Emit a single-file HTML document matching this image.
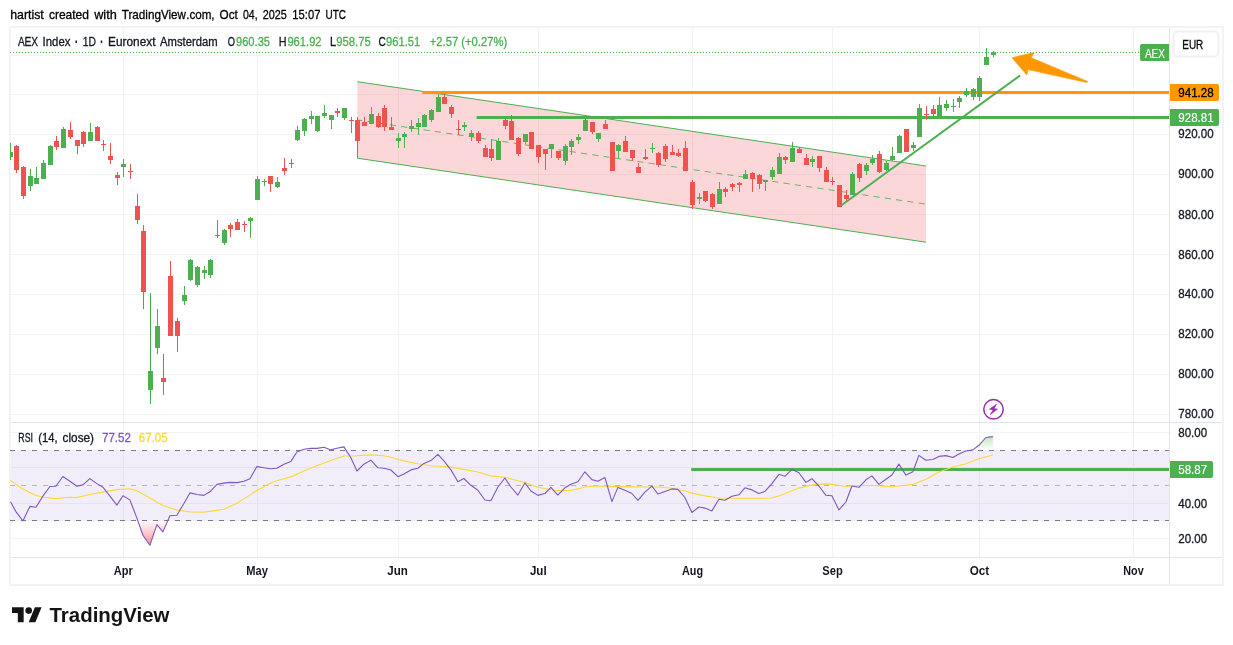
<!DOCTYPE html>
<html><head><meta charset="utf-8"><title>AEX Index chart</title>
<style>html,body{margin:0;padding:0;background:#fff}svg{display:block}</style></head>
<body>
<svg width="1233" height="645" viewBox="0 0 1233 645" font-family='"Liberation Sans", Arial, sans-serif'>
<defs>
<linearGradient id="gos" gradientUnits="userSpaceOnUse" x1="0" y1="520" x2="0" y2="546"><stop offset="0" stop-color="#f23645" stop-opacity="0"/><stop offset="1" stop-color="#f23645" stop-opacity="0.55"/></linearGradient>
<linearGradient id="gob" gradientUnits="userSpaceOnUse" x1="0" y1="434" x2="0" y2="450"><stop offset="0" stop-color="#4caf50" stop-opacity="0.4"/><stop offset="1" stop-color="#4caf50" stop-opacity="0"/></linearGradient>
<clipPath id="cpMain"><rect x="10" y="28" width="1159" height="394"/></clipPath>
<clipPath id="cpRsi"><rect x="10" y="423" width="1159" height="134"/></clipPath>
</defs>
<rect width="1233" height="645" fill="#fff"/>
<text x="10.2" y="18.8" font-size="13" fill="#000" stroke="#000" stroke-width="0.3" textLength="33.6" lengthAdjust="spacingAndGlyphs">hartist</text>
<text x="48.9" y="18.8" font-size="13" fill="#000" stroke="#000" stroke-width="0.3" textLength="40.1" lengthAdjust="spacingAndGlyphs">created</text>
<text x="94.2" y="18.8" font-size="13" fill="#000" stroke="#000" stroke-width="0.3" textLength="22.6" lengthAdjust="spacingAndGlyphs">with</text>
<text x="121.7" y="18.8" font-size="13" fill="#000" stroke="#000" stroke-width="0.3" textLength="39.3" lengthAdjust="spacingAndGlyphs">Trading</text>
<text x="161.0" y="18.8" font-size="13" fill="#000" stroke="#000" stroke-width="0.3" textLength="24.9" lengthAdjust="spacingAndGlyphs">View</text>
<text x="186.2" y="18.8" font-size="13" fill="#000" stroke="#000" stroke-width="0.3" textLength="28.4" lengthAdjust="spacingAndGlyphs">.com,</text>
<text x="219.6" y="18.8" font-size="13" fill="#000" stroke="#000" stroke-width="0.3" textLength="18.3" lengthAdjust="spacingAndGlyphs">Oct</text>
<text x="243" y="18.8" font-size="13" fill="#000" stroke="#000" stroke-width="0.3" textLength="14.6" lengthAdjust="spacingAndGlyphs">04,</text>
<text x="262.7" y="18.8" font-size="13" fill="#000" stroke="#000" stroke-width="0.3" textLength="24.1" lengthAdjust="spacingAndGlyphs">2025</text>
<text x="292.3" y="18.8" font-size="13" fill="#000" stroke="#000" stroke-width="0.3" textLength="28.1" lengthAdjust="spacingAndGlyphs">15:07</text>
<text x="325.5" y="18.8" font-size="13" fill="#000" stroke="#000" stroke-width="0.3" textLength="20.4" lengthAdjust="spacingAndGlyphs">UTC</text>
<rect x="10" y="27" width="1213" height="558" fill="#fff" stroke="#f3f3f3" stroke-width="2"/>
<g shape-rendering="crispEdges" stroke="#f2f3f3" stroke-width="1">
<line x1="123.5" y1="28" x2="123.5" y2="557"/>
<line x1="257.5" y1="28" x2="257.5" y2="557"/>
<line x1="398.5" y1="28" x2="398.5" y2="557"/>
<line x1="538.5" y1="28" x2="538.5" y2="557"/>
<line x1="692.5" y1="28" x2="692.5" y2="557"/>
<line x1="832.5" y1="28" x2="832.5" y2="557"/>
<line x1="979.5" y1="28" x2="979.5" y2="557"/>
<line x1="1133.5" y1="28" x2="1133.5" y2="557"/>
<line x1="11" y1="55.5" x2="1169" y2="55.5"/>
<line x1="11" y1="94.5" x2="1169" y2="94.5"/>
<line x1="11" y1="134.5" x2="1169" y2="134.5"/>
<line x1="11" y1="174.5" x2="1169" y2="174.5"/>
<line x1="11" y1="214.5" x2="1169" y2="214.5"/>
<line x1="11" y1="254.5" x2="1169" y2="254.5"/>
<line x1="11" y1="294.5" x2="1169" y2="294.5"/>
<line x1="11" y1="334.5" x2="1169" y2="334.5"/>
<line x1="11" y1="374.5" x2="1169" y2="374.5"/>
<line x1="11" y1="414.5" x2="1169" y2="414.5"/>
<line x1="11" y1="432.5" x2="1169" y2="432.5"/>
<line x1="11" y1="467.5" x2="1169" y2="467.5"/>
<line x1="11" y1="503.5" x2="1169" y2="503.5"/>
<line x1="11" y1="538.5" x2="1169" y2="538.5"/>
</g>
<g clip-path="url(#cpMain)">
<polygon points="357.3,81.7 926.0,166.0 926.0,242.2 357.3,158.2" fill="#f23645" fill-opacity="0.2"/>
<line x1="357.3" y1="81.7" x2="926.0" y2="166.0" stroke="#4caf50" stroke-width="1"/>
<line x1="357.3" y1="158.2" x2="926.0" y2="242.2" stroke="#4caf50" stroke-width="1"/>
<line x1="357.3" y1="119.94999999999999" x2="926.0" y2="204.1" stroke="#4caf50" stroke-width="1" stroke-dasharray="6.2 5.17" stroke-dashoffset="1.2" stroke-opacity="0.85"/>
<line x1="422.3" y1="92.5" x2="1169" y2="92.5" stroke="#ff9800" stroke-width="3"/>
<line x1="476.6" y1="117.5" x2="1169" y2="117.5" stroke="#4caf50" stroke-width="3"/>
<g shape-rendering="crispEdges">
<rect x="10" y="143" width="1" height="17" fill="#4caf50"/>
<rect x="8" y="152" width="5" height="5" fill="#4caf50"/>
<rect x="16" y="145" width="1" height="28" fill="#ef5350"/>
<rect x="14" y="146" width="5" height="24" fill="#ef5350"/>
<rect x="23" y="166" width="1" height="33" fill="#ef5350"/>
<rect x="21" y="167" width="5" height="29" fill="#ef5350"/>
<rect x="30" y="169" width="1" height="22" fill="#4caf50"/>
<rect x="28" y="176" width="5" height="10" fill="#4caf50"/>
<rect x="36" y="167" width="1" height="17" fill="#4caf50"/>
<rect x="34" y="178" width="5" height="6" fill="#4caf50"/>
<rect x="43" y="160" width="1" height="19" fill="#4caf50"/>
<rect x="41" y="163" width="5" height="16" fill="#4caf50"/>
<rect x="50" y="145" width="1" height="20" fill="#4caf50"/>
<rect x="48" y="146" width="5" height="19" fill="#4caf50"/>
<rect x="56" y="136" width="1" height="14" fill="#ef5350"/>
<rect x="54" y="141" width="5" height="6" fill="#ef5350"/>
<rect x="63" y="127" width="1" height="21" fill="#4caf50"/>
<rect x="61" y="129" width="5" height="19" fill="#4caf50"/>
<rect x="70" y="122" width="1" height="17" fill="#ef5350"/>
<rect x="68" y="130" width="5" height="7" fill="#ef5350"/>
<rect x="77" y="140" width="1" height="14" fill="#ef5350"/>
<rect x="75" y="140" width="5" height="6" fill="#ef5350"/>
<rect x="83" y="131" width="1" height="16" fill="#ef5350"/>
<rect x="81" y="132" width="5" height="12" fill="#ef5350"/>
<rect x="90" y="123" width="1" height="18" fill="#4caf50"/>
<rect x="88" y="132" width="5" height="9" fill="#4caf50"/>
<rect x="97" y="126" width="1" height="15" fill="#ef5350"/>
<rect x="95" y="127" width="5" height="14" fill="#ef5350"/>
<rect x="103" y="140" width="1" height="11" fill="#ef5350"/>
<rect x="101" y="144" width="5" height="1" fill="#ef5350"/>
<rect x="110" y="143" width="1" height="21" fill="#ef5350"/>
<rect x="108" y="156" width="5" height="4" fill="#ef5350"/>
<rect x="117" y="172" width="1" height="13" fill="#ef5350"/>
<rect x="115" y="175" width="5" height="3" fill="#ef5350"/>
<rect x="123" y="159" width="1" height="18" fill="#4caf50"/>
<rect x="121" y="164" width="5" height="3" fill="#4caf50"/>
<rect x="130" y="164" width="1" height="15" fill="#ef5350"/>
<rect x="128" y="171" width="5" height="1" fill="#ef5350"/>
<rect x="137" y="194" width="1" height="30" fill="#ef5350"/>
<rect x="135" y="206" width="5" height="14" fill="#ef5350"/>
<rect x="143" y="225" width="1" height="84" fill="#ef5350"/>
<rect x="141" y="231" width="5" height="61" fill="#ef5350"/>
<rect x="150" y="293" width="1" height="111" fill="#4caf50"/>
<rect x="148" y="371" width="5" height="19" fill="#4caf50"/>
<rect x="157" y="309" width="1" height="45" fill="#4caf50"/>
<rect x="155" y="326" width="5" height="22" fill="#4caf50"/>
<rect x="163" y="354" width="1" height="41" fill="#ef5350"/>
<rect x="161" y="378" width="5" height="4" fill="#ef5350"/>
<rect x="170" y="261" width="1" height="75" fill="#ef5350"/>
<rect x="168" y="276" width="5" height="60" fill="#ef5350"/>
<rect x="177" y="318" width="1" height="34" fill="#ef5350"/>
<rect x="175" y="321" width="5" height="15" fill="#ef5350"/>
<rect x="184" y="286" width="1" height="19" fill="#4caf50"/>
<rect x="182" y="295" width="5" height="6" fill="#4caf50"/>
<rect x="190" y="259" width="1" height="22" fill="#4caf50"/>
<rect x="188" y="260" width="5" height="20" fill="#4caf50"/>
<rect x="197" y="266" width="1" height="21" fill="#4caf50"/>
<rect x="195" y="267" width="5" height="18" fill="#4caf50"/>
<rect x="204" y="266" width="1" height="13" fill="#4caf50"/>
<rect x="202" y="270" width="5" height="3" fill="#4caf50"/>
<rect x="210" y="259" width="1" height="19" fill="#4caf50"/>
<rect x="208" y="260" width="5" height="15" fill="#4caf50"/>
<rect x="217" y="220" width="1" height="18" fill="#ef5350"/>
<rect x="215" y="235" width="5" height="1" fill="#ef5350"/>
<rect x="224" y="229" width="1" height="16" fill="#4caf50"/>
<rect x="222" y="230" width="5" height="13" fill="#4caf50"/>
<rect x="230" y="223" width="1" height="14" fill="#ef5350"/>
<rect x="228" y="225" width="5" height="4" fill="#ef5350"/>
<rect x="237" y="219" width="1" height="11" fill="#ef5350"/>
<rect x="235" y="222" width="5" height="8" fill="#ef5350"/>
<rect x="244" y="221" width="1" height="11" fill="#ef5350"/>
<rect x="242" y="224" width="5" height="1" fill="#ef5350"/>
<rect x="250" y="217" width="1" height="21" fill="#4caf50"/>
<rect x="248" y="218" width="5" height="3" fill="#4caf50"/>
<rect x="257" y="176" width="1" height="24" fill="#4caf50"/>
<rect x="255" y="179" width="5" height="21" fill="#4caf50"/>
<rect x="264" y="179" width="1" height="7" fill="#4caf50"/>
<rect x="262" y="181" width="5" height="1" fill="#4caf50"/>
<rect x="270" y="176" width="1" height="16" fill="#ef5350"/>
<rect x="268" y="176" width="5" height="8" fill="#ef5350"/>
<rect x="277" y="177" width="1" height="11" fill="#4caf50"/>
<rect x="275" y="182" width="5" height="5" fill="#4caf50"/>
<rect x="284" y="158" width="1" height="17" fill="#ef5350"/>
<rect x="282" y="168" width="5" height="3" fill="#ef5350"/>
<rect x="291" y="159" width="1" height="9" fill="#ef5350"/>
<rect x="289" y="163" width="5" height="1" fill="#ef5350"/>
<rect x="297" y="126" width="1" height="15" fill="#4caf50"/>
<rect x="295" y="130" width="5" height="10" fill="#4caf50"/>
<rect x="304" y="118" width="1" height="18" fill="#4caf50"/>
<rect x="302" y="119" width="5" height="12" fill="#4caf50"/>
<rect x="311" y="111" width="1" height="13" fill="#4caf50"/>
<rect x="309" y="116" width="5" height="3" fill="#4caf50"/>
<rect x="317" y="116" width="1" height="16" fill="#4caf50"/>
<rect x="315" y="116" width="5" height="15" fill="#4caf50"/>
<rect x="324" y="105" width="1" height="13" fill="#4caf50"/>
<rect x="322" y="113" width="5" height="3" fill="#4caf50"/>
<rect x="331" y="115" width="1" height="14" fill="#4caf50"/>
<rect x="329" y="115" width="5" height="5" fill="#4caf50"/>
<rect x="337" y="108" width="1" height="9" fill="#ef5350"/>
<rect x="335" y="111" width="5" height="2" fill="#ef5350"/>
<rect x="344" y="108" width="1" height="12" fill="#4caf50"/>
<rect x="342" y="108" width="5" height="10" fill="#4caf50"/>
<rect x="351" y="117" width="1" height="16" fill="#ef5350"/>
<rect x="349" y="120" width="5" height="1" fill="#ef5350"/>
<rect x="357" y="117" width="1" height="41" fill="#ef5350"/>
<rect x="355" y="120" width="5" height="21" fill="#ef5350"/>
<rect x="364" y="117" width="1" height="9" fill="#ef5350"/>
<rect x="362" y="122" width="5" height="4" fill="#ef5350"/>
<rect x="371" y="107" width="1" height="17" fill="#4caf50"/>
<rect x="369" y="114" width="5" height="10" fill="#4caf50"/>
<rect x="378" y="113" width="1" height="15" fill="#ef5350"/>
<rect x="376" y="116" width="5" height="11" fill="#ef5350"/>
<rect x="384" y="105" width="1" height="26" fill="#ef5350"/>
<rect x="382" y="108" width="5" height="19" fill="#ef5350"/>
<rect x="391" y="117" width="1" height="13" fill="#ef5350"/>
<rect x="389" y="127" width="5" height="3" fill="#ef5350"/>
<rect x="398" y="133" width="1" height="15" fill="#4caf50"/>
<rect x="396" y="138" width="5" height="3" fill="#4caf50"/>
<rect x="404" y="132" width="1" height="16" fill="#4caf50"/>
<rect x="402" y="134" width="5" height="3" fill="#4caf50"/>
<rect x="411" y="120" width="1" height="12" fill="#4caf50"/>
<rect x="409" y="126" width="5" height="3" fill="#4caf50"/>
<rect x="418" y="118" width="1" height="17" fill="#4caf50"/>
<rect x="416" y="123" width="5" height="4" fill="#4caf50"/>
<rect x="424" y="114" width="1" height="13" fill="#4caf50"/>
<rect x="422" y="115" width="5" height="12" fill="#4caf50"/>
<rect x="431" y="109" width="1" height="13" fill="#4caf50"/>
<rect x="429" y="110" width="5" height="10" fill="#4caf50"/>
<rect x="438" y="94" width="1" height="18" fill="#4caf50"/>
<rect x="436" y="97" width="5" height="15" fill="#4caf50"/>
<rect x="444" y="94" width="1" height="10" fill="#ef5350"/>
<rect x="442" y="97" width="5" height="7" fill="#ef5350"/>
<rect x="451" y="105" width="1" height="13" fill="#ef5350"/>
<rect x="449" y="107" width="5" height="7" fill="#ef5350"/>
<rect x="458" y="120" width="1" height="15" fill="#ef5350"/>
<rect x="456" y="129" width="5" height="1" fill="#ef5350"/>
<rect x="464" y="122" width="1" height="9" fill="#4caf50"/>
<rect x="462" y="125" width="5" height="2" fill="#4caf50"/>
<rect x="471" y="130" width="1" height="11" fill="#4caf50"/>
<rect x="469" y="133" width="5" height="4" fill="#4caf50"/>
<rect x="478" y="131" width="1" height="12" fill="#ef5350"/>
<rect x="476" y="133" width="5" height="8" fill="#ef5350"/>
<rect x="485" y="145" width="1" height="12" fill="#ef5350"/>
<rect x="483" y="148" width="5" height="9" fill="#ef5350"/>
<rect x="491" y="139" width="1" height="22" fill="#ef5350"/>
<rect x="489" y="149" width="5" height="9" fill="#ef5350"/>
<rect x="498" y="138" width="1" height="22" fill="#4caf50"/>
<rect x="496" y="141" width="5" height="19" fill="#4caf50"/>
<rect x="505" y="119" width="1" height="10" fill="#ef5350"/>
<rect x="503" y="120" width="5" height="6" fill="#ef5350"/>
<rect x="511" y="115" width="1" height="25" fill="#ef5350"/>
<rect x="509" y="121" width="5" height="19" fill="#ef5350"/>
<rect x="518" y="137" width="1" height="19" fill="#ef5350"/>
<rect x="516" y="138" width="5" height="16" fill="#ef5350"/>
<rect x="525" y="134" width="1" height="10" fill="#4caf50"/>
<rect x="523" y="134" width="5" height="8" fill="#4caf50"/>
<rect x="531" y="132" width="1" height="17" fill="#ef5350"/>
<rect x="529" y="132" width="5" height="17" fill="#ef5350"/>
<rect x="538" y="145" width="1" height="18" fill="#ef5350"/>
<rect x="536" y="145" width="5" height="12" fill="#ef5350"/>
<rect x="545" y="149" width="1" height="21" fill="#ef5350"/>
<rect x="543" y="149" width="5" height="5" fill="#ef5350"/>
<rect x="551" y="144" width="1" height="14" fill="#4caf50"/>
<rect x="549" y="144" width="5" height="5" fill="#4caf50"/>
<rect x="558" y="151" width="1" height="9" fill="#ef5350"/>
<rect x="556" y="151" width="5" height="7" fill="#ef5350"/>
<rect x="565" y="144" width="1" height="21" fill="#4caf50"/>
<rect x="563" y="146" width="5" height="15" fill="#4caf50"/>
<rect x="571" y="139" width="1" height="16" fill="#4caf50"/>
<rect x="569" y="141" width="5" height="6" fill="#4caf50"/>
<rect x="578" y="134" width="1" height="10" fill="#4caf50"/>
<rect x="576" y="137" width="5" height="3" fill="#4caf50"/>
<rect x="585" y="119" width="1" height="12" fill="#4caf50"/>
<rect x="583" y="120" width="5" height="11" fill="#4caf50"/>
<rect x="592" y="122" width="1" height="12" fill="#ef5350"/>
<rect x="590" y="122" width="5" height="10" fill="#ef5350"/>
<rect x="598" y="133" width="1" height="9" fill="#4caf50"/>
<rect x="596" y="133" width="5" height="6" fill="#4caf50"/>
<rect x="605" y="120" width="1" height="9" fill="#ef5350"/>
<rect x="603" y="124" width="5" height="5" fill="#ef5350"/>
<rect x="612" y="142" width="1" height="29" fill="#ef5350"/>
<rect x="610" y="142" width="5" height="29" fill="#ef5350"/>
<rect x="618" y="144" width="1" height="14" fill="#4caf50"/>
<rect x="616" y="145" width="5" height="6" fill="#4caf50"/>
<rect x="625" y="136" width="1" height="16" fill="#ef5350"/>
<rect x="623" y="141" width="5" height="11" fill="#ef5350"/>
<rect x="632" y="150" width="1" height="11" fill="#ef5350"/>
<rect x="630" y="150" width="5" height="8" fill="#ef5350"/>
<rect x="638" y="163" width="1" height="10" fill="#ef5350"/>
<rect x="636" y="167" width="5" height="6" fill="#ef5350"/>
<rect x="645" y="149" width="1" height="11" fill="#ef5350"/>
<rect x="643" y="157" width="5" height="2" fill="#ef5350"/>
<rect x="652" y="143" width="1" height="10" fill="#4caf50"/>
<rect x="650" y="148" width="5" height="1" fill="#4caf50"/>
<rect x="658" y="152" width="1" height="15" fill="#ef5350"/>
<rect x="656" y="153" width="5" height="12" fill="#ef5350"/>
<rect x="665" y="144" width="1" height="18" fill="#ef5350"/>
<rect x="663" y="146" width="5" height="13" fill="#ef5350"/>
<rect x="672" y="145" width="1" height="10" fill="#ef5350"/>
<rect x="670" y="152" width="5" height="3" fill="#ef5350"/>
<rect x="678" y="149" width="1" height="8" fill="#ef5350"/>
<rect x="676" y="153" width="5" height="3" fill="#ef5350"/>
<rect x="685" y="141" width="1" height="30" fill="#ef5350"/>
<rect x="683" y="148" width="5" height="23" fill="#ef5350"/>
<rect x="692" y="180" width="1" height="29" fill="#ef5350"/>
<rect x="690" y="182" width="5" height="23" fill="#ef5350"/>
<rect x="699" y="193" width="1" height="11" fill="#4caf50"/>
<rect x="697" y="197" width="5" height="2" fill="#4caf50"/>
<rect x="705" y="191" width="1" height="11" fill="#ef5350"/>
<rect x="703" y="191" width="5" height="10" fill="#ef5350"/>
<rect x="712" y="193" width="1" height="16" fill="#ef5350"/>
<rect x="710" y="194" width="5" height="13" fill="#ef5350"/>
<rect x="719" y="182" width="1" height="22" fill="#4caf50"/>
<rect x="717" y="189" width="5" height="15" fill="#4caf50"/>
<rect x="725" y="187" width="1" height="10" fill="#ef5350"/>
<rect x="723" y="189" width="5" height="3" fill="#ef5350"/>
<rect x="732" y="183" width="1" height="8" fill="#ef5350"/>
<rect x="730" y="184" width="5" height="3" fill="#ef5350"/>
<rect x="739" y="182" width="1" height="10" fill="#ef5350"/>
<rect x="737" y="183" width="5" height="2" fill="#ef5350"/>
<rect x="745" y="170" width="1" height="9" fill="#4caf50"/>
<rect x="743" y="174" width="5" height="5" fill="#4caf50"/>
<rect x="752" y="172" width="1" height="20" fill="#ef5350"/>
<rect x="750" y="173" width="5" height="6" fill="#ef5350"/>
<rect x="759" y="174" width="1" height="15" fill="#ef5350"/>
<rect x="757" y="175" width="5" height="9" fill="#ef5350"/>
<rect x="765" y="180" width="1" height="11" fill="#4caf50"/>
<rect x="763" y="180" width="5" height="2" fill="#4caf50"/>
<rect x="772" y="167" width="1" height="13" fill="#4caf50"/>
<rect x="770" y="170" width="5" height="7" fill="#4caf50"/>
<rect x="779" y="153" width="1" height="21" fill="#4caf50"/>
<rect x="777" y="157" width="5" height="17" fill="#4caf50"/>
<rect x="785" y="156" width="1" height="8" fill="#ef5350"/>
<rect x="783" y="157" width="5" height="3" fill="#ef5350"/>
<rect x="792" y="142" width="1" height="20" fill="#4caf50"/>
<rect x="790" y="148" width="5" height="14" fill="#4caf50"/>
<rect x="799" y="147" width="1" height="6" fill="#ef5350"/>
<rect x="797" y="149" width="5" height="4" fill="#ef5350"/>
<rect x="806" y="154" width="1" height="11" fill="#ef5350"/>
<rect x="804" y="158" width="5" height="7" fill="#ef5350"/>
<rect x="812" y="156" width="1" height="11" fill="#4caf50"/>
<rect x="810" y="159" width="5" height="3" fill="#4caf50"/>
<rect x="819" y="156" width="1" height="16" fill="#ef5350"/>
<rect x="817" y="156" width="5" height="12" fill="#ef5350"/>
<rect x="826" y="167" width="1" height="15" fill="#ef5350"/>
<rect x="824" y="170" width="5" height="12" fill="#ef5350"/>
<rect x="832" y="177" width="1" height="8" fill="#ef5350"/>
<rect x="830" y="181" width="5" height="1" fill="#ef5350"/>
<rect x="839" y="185" width="1" height="22" fill="#ef5350"/>
<rect x="837" y="185" width="5" height="22" fill="#ef5350"/>
<rect x="846" y="190" width="1" height="11" fill="#ef5350"/>
<rect x="844" y="195" width="5" height="4" fill="#ef5350"/>
<rect x="852" y="172" width="1" height="23" fill="#4caf50"/>
<rect x="850" y="174" width="5" height="21" fill="#4caf50"/>
<rect x="859" y="163" width="1" height="19" fill="#ef5350"/>
<rect x="857" y="164" width="5" height="14" fill="#ef5350"/>
<rect x="866" y="163" width="1" height="12" fill="#4caf50"/>
<rect x="864" y="165" width="5" height="6" fill="#4caf50"/>
<rect x="872" y="155" width="1" height="10" fill="#4caf50"/>
<rect x="870" y="159" width="5" height="4" fill="#4caf50"/>
<rect x="879" y="151" width="1" height="22" fill="#ef5350"/>
<rect x="877" y="154" width="5" height="18" fill="#ef5350"/>
<rect x="886" y="161" width="1" height="10" fill="#4caf50"/>
<rect x="884" y="163" width="5" height="7" fill="#4caf50"/>
<rect x="892" y="147" width="1" height="14" fill="#4caf50"/>
<rect x="890" y="156" width="5" height="4" fill="#4caf50"/>
<rect x="899" y="135" width="1" height="18" fill="#4caf50"/>
<rect x="897" y="136" width="5" height="17" fill="#4caf50"/>
<rect x="906" y="129" width="1" height="23" fill="#ef5350"/>
<rect x="904" y="129" width="5" height="23" fill="#ef5350"/>
<rect x="913" y="142" width="1" height="9" fill="#4caf50"/>
<rect x="911" y="145" width="5" height="3" fill="#4caf50"/>
<rect x="919" y="104" width="1" height="33" fill="#4caf50"/>
<rect x="917" y="108" width="5" height="29" fill="#4caf50"/>
<rect x="926" y="106" width="1" height="14" fill="#ef5350"/>
<rect x="924" y="114" width="5" height="1" fill="#ef5350"/>
<rect x="933" y="105" width="1" height="11" fill="#ef5350"/>
<rect x="931" y="109" width="5" height="5" fill="#ef5350"/>
<rect x="939" y="97" width="1" height="21" fill="#4caf50"/>
<rect x="937" y="105" width="5" height="13" fill="#4caf50"/>
<rect x="946" y="100" width="1" height="11" fill="#4caf50"/>
<rect x="944" y="104" width="5" height="4" fill="#4caf50"/>
<rect x="953" y="99" width="1" height="13" fill="#4caf50"/>
<rect x="951" y="106" width="5" height="1" fill="#4caf50"/>
<rect x="959" y="96" width="1" height="12" fill="#4caf50"/>
<rect x="957" y="98" width="5" height="4" fill="#4caf50"/>
<rect x="966" y="88" width="1" height="9" fill="#4caf50"/>
<rect x="964" y="91" width="5" height="4" fill="#4caf50"/>
<rect x="973" y="88" width="1" height="12" fill="#4caf50"/>
<rect x="971" y="89" width="5" height="8" fill="#4caf50"/>
<rect x="979" y="76" width="1" height="25" fill="#4caf50"/>
<rect x="977" y="78" width="5" height="19" fill="#4caf50"/>
<rect x="986" y="48" width="1" height="17" fill="#4caf50"/>
<rect x="984" y="57" width="5" height="8" fill="#4caf50"/>
<rect x="993" y="51" width="1" height="6" fill="#4caf50"/>
<rect x="991" y="52" width="5" height="3" fill="#4caf50"/>
</g>
<line x1="841.5" y1="205.2" x2="1020.2" y2="75.5" stroke="#4caf50" stroke-width="2"/>
<line x1="10" y1="52.5" x2="1140" y2="52.5" stroke="#4caf50" stroke-width="1" stroke-dasharray="1 2" shape-rendering="crispEdges"/>
<polygon points="1012,57.7 1034.1,52.4 1031.2,57.7 1087.6,81.4 1087,82.6 1028,69.6 1026.8,75.1" fill="#ff9800" stroke="#ff9800" stroke-width="0.6" stroke-linejoin="round"/>
<path d="M1142,44 H1169 V61 H1142 a2,2 0 0 1 -2,-2 V46 a2,2 0 0 1 2,-2 Z" fill="#4caf50"/>
<text x="1144.9" y="57.7" font-size="12" fill="#fff" stroke="#fff" stroke-width="0.15" textLength="19.9" lengthAdjust="spacingAndGlyphs">AEX</text>
</g>
<circle cx="993.5" cy="409.35" r="11.5" fill="#fff"/>
<circle cx="993.5" cy="409.35" r="9.75" fill="#fff" stroke="#9c27b0" stroke-width="1.5"/>
<polygon points="996.4,404.3 989.6,409.3 993.3,409.7 990.4,414.5 997.4,409.1 993.9,408.8" fill="#9c27b0" stroke="#9c27b0" stroke-width="0.7" stroke-linejoin="round"/>
<g shape-rendering="crispEdges">
<rect x="11" y="422" width="1211" height="1" fill="#e0e3eb"/>
<rect x="11" y="557" width="1211" height="1" fill="#e4e4e6"/>
<rect x="1169" y="28" width="1" height="556" fill="#e4e4e6"/>
</g>
<g clip-path="url(#cpRsi)">
<rect x="11" y="450" width="1158" height="71" fill="#7e57c2" fill-opacity="0.1"/>
<line x1="10" y1="450.5" x2="1169" y2="450.5" stroke="#787b86" stroke-opacity="1" stroke-width="1" stroke-dasharray="5 6" shape-rendering="crispEdges"/>
<line x1="10" y1="485.5" x2="1169" y2="485.5" stroke="#787b86" stroke-opacity="0.5" stroke-width="1" stroke-dasharray="5 6" shape-rendering="crispEdges"/>
<line x1="10" y1="520.5" x2="1169" y2="520.5" stroke="#787b86" stroke-opacity="1" stroke-width="1" stroke-dasharray="5 6" shape-rendering="crispEdges"/>
<polygon points="22.6,520.5 22.9,520.9 23.1,520.5" fill="url(#gos)"/>
<polygon points="137.7,520.5 142.9,535.2 149.9,545.2 156.9,524.6 162.9,531.9 167.8,520.5" fill="url(#gos)"/>
<polygon points="969.2,450.5 972.9,449.9 978.9,445.3 985.9,437.5 992.9,436.6 992.9,450.5" fill="url(#gob)"/>
<line x1="691.2" y1="469.5" x2="1169" y2="469.5" stroke="#4caf50" stroke-width="3"/>
<polyline fill="none" stroke="#fdd835" stroke-width="1.1" stroke-linejoin="round" points="9.6,479.9 22.3,488.8 35.3,495.3 43.5,497.3 55.8,498.6 69.5,497.3 76.8,497.6 89.8,494.5 102.9,492.1 116.7,489.6 129.7,488.8 137.0,490.8 150.9,498.6 162.9,505.4 176.9,510.0 189.9,511.9 203.9,512.1 209.8,511.4 223.8,509.3 236.8,503.2 249.8,495.1 256.8,490.5 269.9,483.4 276.9,480.8 290.9,476.9 303.9,471.0 316.9,465.8 330.9,460.6 343.9,456.0 356.8,455.7 370.8,454.9 383.8,455.7 390.9,457.2 399.4,459.8 403.8,460.9 417.8,463.8 430.9,465.8 443.9,466.5 450.9,467.1 463.9,469.4 477.9,472.0 490.9,475.9 504.9,477.2 517.9,480.8 524.9,482.4 537.9,487.3 551.0,489.7 557.9,490.5 564.9,490.5 571.0,490.2 578.0,488.9 585.0,487.0 594.4,486.1 604.9,486.1 624.9,486.6 644.9,487.0 657.9,487.0 671.9,488.3 684.9,491.0 691.9,493.1 704.9,495.9 718.9,498.0 732.0,498.3 745.0,498.3 759.0,498.3 771.8,498.0 779.0,495.9 789.4,491.8 798.9,488.1 811.9,484.9 825.9,483.9 831.9,484.4 845.9,486.5 858.9,485.5 872.0,485.5 892.0,486.8 899.0,486.0 913.0,484.4 926.0,479.2 939.0,471.9 952.8,467.0 965.8,463.7 978.9,458.8 992.9,455.0"/>
<polyline fill="none" stroke="#7e57c2" stroke-width="1.1" stroke-linejoin="round" points="10.5,501.8 15.9,511.6 22.9,520.9 29.9,506.4 35.9,507.2 42.9,496.1 49.9,486.5 55.9,486.2 62.9,476.5 69.9,481.3 76.9,486.2 82.9,484.9 89.9,478.6 96.9,483.6 102.9,487.2 109.9,496.1 116.9,505.1 122.9,495.8 129.9,499.9 136.9,518.1 142.9,535.2 149.9,545.2 156.9,524.6 162.9,531.9 169.9,515.7 176.9,515.2 183.9,503.5 189.9,492.9 196.9,494.5 203.9,495.4 209.9,491.8 216.9,484.4 223.9,483.1 229.9,482.4 236.9,482.6 243.9,481.3 249.9,478.8 256.9,466.6 263.9,467.8 269.9,468.7 276.9,468.2 283.9,464.2 290.9,461.4 296.9,452.0 303.9,449.2 310.9,448.4 316.9,448.4 323.9,447.2 330.9,449.9 336.9,448.2 343.9,446.9 350.9,457.7 356.9,471.0 363.9,464.2 370.9,460.1 377.9,467.8 383.9,468.2 390.9,470.0 397.9,476.7 403.9,473.9 410.9,469.9 417.9,468.2 423.9,463.4 430.9,460.6 437.9,454.4 443.9,460.9 450.9,469.9 457.9,481.7 463.9,478.5 470.9,485.3 477.9,490.2 484.9,500.0 490.9,500.8 497.9,487.0 504.9,478.0 510.9,487.0 517.9,495.1 524.9,482.9 530.9,491.0 537.9,495.4 544.9,493.5 550.9,487.3 557.9,495.1 564.9,487.8 570.9,484.2 577.9,481.7 584.9,471.8 591.9,479.6 597.9,481.3 604.9,477.5 611.9,501.6 617.9,487.4 624.9,490.2 631.9,493.5 637.9,500.3 644.9,492.2 651.9,486.1 657.9,494.0 664.9,491.4 671.9,488.9 677.9,489.4 684.9,497.5 691.9,512.5 698.9,507.0 704.9,508.1 711.9,510.9 718.9,499.2 724.9,500.3 731.9,496.2 738.9,494.8 744.9,487.8 751.9,489.9 758.9,493.5 764.9,491.4 771.9,483.7 778.9,474.3 784.9,476.3 791.9,469.3 798.9,472.7 805.9,482.4 811.9,478.7 818.9,486.0 825.9,495.3 831.9,495.8 838.9,509.9 845.9,502.0 851.9,486.0 858.9,487.3 865.9,479.8 871.9,475.9 878.9,484.4 885.9,479.2 891.9,475.0 898.9,464.1 905.9,475.1 912.9,471.7 918.9,455.4 925.9,460.3 932.9,459.5 938.9,456.4 945.9,455.6 952.9,457.5 958.9,454.0 965.9,451.0 972.9,449.9 978.9,445.3 985.9,437.5 992.9,436.6"/>
</g>
<text x="1178.3" y="138" font-size="12" fill="#131722" stroke="#131722" stroke-width="0.3" textLength="35.3" lengthAdjust="spacingAndGlyphs">920.00</text>
<text x="1178.3" y="178" font-size="12" fill="#131722" stroke="#131722" stroke-width="0.3" textLength="35.3" lengthAdjust="spacingAndGlyphs">900.00</text>
<text x="1178.3" y="218.7" font-size="12" fill="#131722" stroke="#131722" stroke-width="0.3" textLength="35.3" lengthAdjust="spacingAndGlyphs">880.00</text>
<text x="1178.3" y="258.7" font-size="12" fill="#131722" stroke="#131722" stroke-width="0.3" textLength="35.3" lengthAdjust="spacingAndGlyphs">860.00</text>
<text x="1178.3" y="298" font-size="12" fill="#131722" stroke="#131722" stroke-width="0.3" textLength="35.3" lengthAdjust="spacingAndGlyphs">840.00</text>
<text x="1178.3" y="338" font-size="12" fill="#131722" stroke="#131722" stroke-width="0.3" textLength="35.3" lengthAdjust="spacingAndGlyphs">820.00</text>
<text x="1178.3" y="378" font-size="12" fill="#131722" stroke="#131722" stroke-width="0.3" textLength="35.3" lengthAdjust="spacingAndGlyphs">800.00</text>
<text x="1178.3" y="418" font-size="12" fill="#131722" stroke="#131722" stroke-width="0.3" textLength="35.3" lengthAdjust="spacingAndGlyphs">780.00</text>
<text x="1178.3" y="436.7" font-size="12" fill="#131722" stroke="#131722" stroke-width="0.3" textLength="28.8" lengthAdjust="spacingAndGlyphs">80.00</text>
<text x="1178.3" y="507.7" font-size="12" fill="#131722" stroke="#131722" stroke-width="0.3" textLength="28.8" lengthAdjust="spacingAndGlyphs">40.00</text>
<text x="1178.3" y="542.7" font-size="12" fill="#131722" stroke="#131722" stroke-width="0.3" textLength="28.8" lengthAdjust="spacingAndGlyphs">20.00</text>
<path d="M1170,84 H1217 a2,2 0 0 1 2,2 V99 a2,2 0 0 1 -2,2 H1170 Z" fill="#ff9800"/>
<text x="1178.3" y="96.5" font-size="12" fill="#000" stroke="#000" stroke-width="0.3" textLength="35.3" lengthAdjust="spacingAndGlyphs">941.28</text>
<path d="M1170,109 H1217 a2,2 0 0 1 2,2 V124 a2,2 0 0 1 -2,2 H1170 Z" fill="#4caf50"/>
<text x="1178.3" y="121.5" font-size="12" fill="#fff" stroke="#fff" stroke-width="0.15" textLength="35.3" lengthAdjust="spacingAndGlyphs">928.81</text>
<path d="M1170,461 H1211 a2,2 0 0 1 2,2 V476 a2,2 0 0 1 -2,2 H1170 Z" fill="#4caf50"/>
<text x="1178.3" y="473.5" font-size="12" fill="#fff" stroke="#fff" stroke-width="0.15" textLength="28.8" lengthAdjust="spacingAndGlyphs">58.87</text>
<rect x="1173.5" y="31.5" width="45" height="25" rx="4" fill="#fff" stroke="#f1f1f1" stroke-width="2"/>
<text x="1182.3" y="48.9" font-size="12" fill="#0c0c0c" stroke="#0c0c0c" stroke-width="0.3" textLength="21" lengthAdjust="spacingAndGlyphs">EUR</text>
<text x="17.9" y="45.8" font-size="12" fill="#131722" stroke="#131722" stroke-width="0.3" textLength="20.2" lengthAdjust="spacingAndGlyphs">AEX</text>
<text x="42.6" y="45.8" font-size="12" fill="#131722" stroke="#131722" stroke-width="0.3" textLength="27.8" lengthAdjust="spacingAndGlyphs">Index</text>
<text x="74.8" y="47.4" font-size="17" fill="#131722" font-weight="bold" textLength="3.6" lengthAdjust="spacingAndGlyphs">·</text>
<text x="82.8" y="45.8" font-size="12" fill="#131722" stroke="#131722" stroke-width="0.3" textLength="13.2" lengthAdjust="spacingAndGlyphs">1D</text>
<text x="100.0" y="47.4" font-size="17" fill="#131722" font-weight="bold" textLength="3.6" lengthAdjust="spacingAndGlyphs">·</text>
<text x="108.1" y="45.8" font-size="12" fill="#131722" stroke="#131722" stroke-width="0.3" textLength="47.4" lengthAdjust="spacingAndGlyphs">Euronext</text>
<text x="160.1" y="45.8" font-size="12" fill="#131722" stroke="#131722" stroke-width="0.3" textLength="57.6" lengthAdjust="spacingAndGlyphs">Amsterdam</text>
<text x="227.8" y="45.8" font-size="12" fill="#131722" stroke="#131722" stroke-width="0.3" textLength="7.2" lengthAdjust="spacingAndGlyphs">O</text>
<text x="236" y="45.8" font-size="12" fill="#4caf50" stroke="#4caf50" stroke-width="0.3" textLength="34" lengthAdjust="spacingAndGlyphs">960.35</text>
<text x="278.7" y="45.8" font-size="12" fill="#131722" stroke="#131722" stroke-width="0.3" textLength="7.8" lengthAdjust="spacingAndGlyphs">H</text>
<text x="287.4" y="45.8" font-size="12" fill="#4caf50" stroke="#4caf50" stroke-width="0.3" textLength="34.2" lengthAdjust="spacingAndGlyphs">961.92</text>
<text x="329.9" y="45.8" font-size="12" fill="#131722" stroke="#131722" stroke-width="0.3" textLength="6.1" lengthAdjust="spacingAndGlyphs">L</text>
<text x="336.3" y="45.8" font-size="12" fill="#4caf50" stroke="#4caf50" stroke-width="0.3" textLength="34.4" lengthAdjust="spacingAndGlyphs">958.75</text>
<text x="378.6" y="45.8" font-size="12" fill="#131722" stroke="#131722" stroke-width="0.3" textLength="7.3" lengthAdjust="spacingAndGlyphs">C</text>
<text x="386.1" y="45.8" font-size="12" fill="#4caf50" stroke="#4caf50" stroke-width="0.3" textLength="34.2" lengthAdjust="spacingAndGlyphs">961.51</text>
<text x="429.8" y="45.8" font-size="12" fill="#4caf50" stroke="#4caf50" stroke-width="0.3" textLength="77.4" lengthAdjust="spacingAndGlyphs">+2.57 (+0.27%)</text>
<text x="18.3" y="441.8" font-size="12" fill="#131722" stroke="#131722" stroke-width="0.3" textLength="14.7" lengthAdjust="spacingAndGlyphs">RSI</text>
<text x="38.3" y="441.8" font-size="12" fill="#131722" stroke="#131722" stroke-width="0.3" textLength="19.3" lengthAdjust="spacingAndGlyphs">(14,</text>
<text x="62.6" y="441.8" font-size="12" fill="#131722" stroke="#131722" stroke-width="0.3" textLength="31.4" lengthAdjust="spacingAndGlyphs">close)</text>
<text x="102" y="441.8" font-size="12" fill="#7e57c2" stroke="#7e57c2" stroke-width="0.3" textLength="28.9" lengthAdjust="spacingAndGlyphs">77.52</text>
<text x="138.8" y="441.8" font-size="12" fill="#fdd835" stroke="#fdd835" stroke-width="0.3" textLength="28.9" lengthAdjust="spacingAndGlyphs">67.05</text>
<text x="113.8" y="574.8" font-size="12" fill="#131722" font-weight="bold" textLength="19" lengthAdjust="spacingAndGlyphs">Apr</text>
<text x="246.3" y="574.8" font-size="12" fill="#131722" font-weight="bold" textLength="21.6" lengthAdjust="spacingAndGlyphs">May</text>
<text x="387.35" y="574.8" font-size="12" fill="#131722" font-weight="bold" textLength="20.5" lengthAdjust="spacingAndGlyphs">Jun</text>
<text x="529.9499999999999" y="574.8" font-size="12" fill="#131722" font-weight="bold" textLength="16.7" lengthAdjust="spacingAndGlyphs">Jul</text>
<text x="682.0" y="574.8" font-size="12" fill="#131722" font-weight="bold" textLength="21" lengthAdjust="spacingAndGlyphs">Aug</text>
<text x="822.25" y="574.8" font-size="12" fill="#131722" font-weight="bold" textLength="20.5" lengthAdjust="spacingAndGlyphs">Sep</text>
<text x="969.75" y="574.8" font-size="12" fill="#131722" font-weight="bold" textLength="19.5" lengthAdjust="spacingAndGlyphs">Oct</text>
<text x="1123.3" y="574.8" font-size="12" fill="#131722" font-weight="bold" textLength="20.4" lengthAdjust="spacingAndGlyphs">Nov</text>
<g transform="translate(12,603.9) scale(0.8333)" fill="#141414"><path d="M14 22H7V11H0V4h14v18zM28 22h-8l7.5-18h8L28 22z"/><circle cx="20" cy="8" r="4"/></g>
<text x="49.5" y="622" font-size="20.6" fill="#141414" font-weight="bold" textLength="120" lengthAdjust="spacingAndGlyphs">TradingView</text>
</svg>
</body></html>
